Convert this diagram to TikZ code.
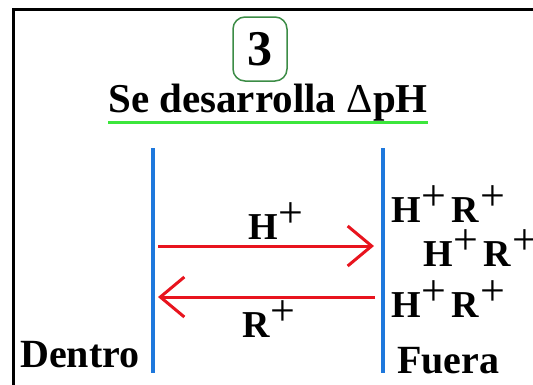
\documentclass[tikz,border=0pt]{standalone}
\usepackage{fontspec}
\setmainfont{Liberation Serif}
\usetikzlibrary{arrows.meta}
\definecolor{membrana}{HTML}{1E78DC}
\definecolor{flecha}{HTML}{E8141E}
\definecolor{subraya}{HTML}{3CE63C}
\definecolor{caja}{HTML}{3C8C46}
\newcommand\masion{\kern1pt\raisebox{12pt}{\fontsize{44}{44}\mdseries\selectfont +}}
\tikzset{
  membr/.style={draw=membrana, line width=4.5pt},
  flujo/.style={draw=flecha, line width=3pt, -{Straight Barb[length=24pt, width=40pt, line width=3pt]}},
  ion/.style={font=\fontsize{38}{38}\bfseries\selectfont, inner sep=0pt, anchor=base west},
  lado/.style={font=\fontsize{40}{40}\bfseries\selectfont, inner sep=0pt, anchor=base west},
}
\begin{document}
\begin{tikzpicture}[x=1pt,y=-1pt]
\useasboundingbox (0,0) rectangle (533,384);
\fill[white] (0,0) rectangle (533,384);
% frame
\draw[line width=3pt] (13,400) -- (13,9.5) -- (545,9.5);
% number box
\node[draw=caja, line width=1.5pt, rounded corners=12pt, minimum width=54pt, minimum height=64pt, inner sep=0pt,
      font=\fontsize{50}{50}\bfseries\selectfont] (num) at (260,49) {3};
% title
\node[font=\fontsize{41}{41}\bfseries\selectfont, inner sep=0pt, anchor=base] (tit) at (268,112) {Se desarrolla {\mdseries Δ}pH};
\draw[subraya, line width=2.5pt] (108,122.5) coordinate (u1) -- (428,122.5) coordinate (u2);
% membranes
\coordinate (L1) at (153,148); \coordinate (L2) at (153,373);
\coordinate (R1) at (383,148); \coordinate (R2) at (383,373);
\draw[membr] (L1) -- (L2);
\draw[membr] (R1) -- (R2);
% arrows
\coordinate (a1) at (158,246); \coordinate (a2) at (374,246);
\coordinate (b1) at (375,297); \coordinate (b2) at (158,297);
\draw[flujo] (a1) -- (a2);
\draw[flujo] (b1) -- (b2);
% labels
\node[ion] (hlab) at (248,239) {H\masion};
\node[ion] (rlab) at (242,337) {R\masion};
\node[ion] (f1) at (391,222) {H\masion\kern5pt R\masion};
\node[ion] (f2) at (423,266) {H\masion\kern5pt R\masion};
\node[ion] (f3) at (391,317) {H\masion\kern5pt R\masion};
\node[lado] (dentro) at (20,367) {Dentro};
\node[lado] (fuera) at (397,373) {Fuera};
\end{tikzpicture}
\end{document}
